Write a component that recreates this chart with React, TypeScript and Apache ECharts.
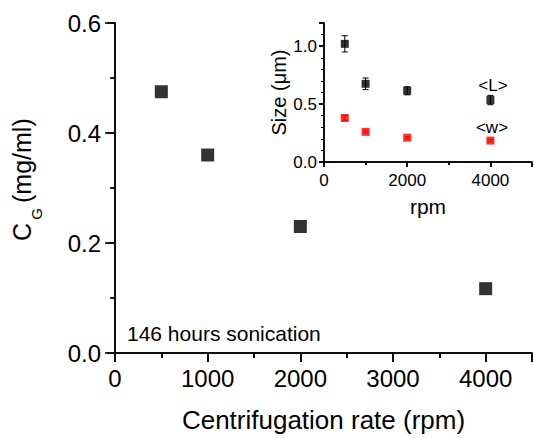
import React, { useEffect, useRef } from "react";
import * as echarts from "echarts";

const rpm = [500, 1000, 2000, 4000];
const concentration = [0.475, 0.36, 0.23, 0.117];
const lengthL = [1.02, 0.675, 0.615, 0.535];
const lengthErr = [0.07, 0.05, 0.035, 0.04];
const widthW = [0.38, 0.26, 0.21, 0.185];
const widthErr = [0.02, 0.01, 0.01, 0.01];

const FONT = "Liberation Sans, Arial, sans-serif";
const BLACK = "#000000";
const RED = "#ff0000";

const axisLineStyle = { color: BLACK, width: 1.5 };
const plain = (v: number) => String(v);

function errorBars(xIdx: number, yIdx: number, xs: number[], ys: number[], es: number[], color: string) {
  return {
    type: "custom",
    xAxisIndex: xIdx,
    yAxisIndex: yIdx,
    z: 3,
    data: xs.map((x, i) => [x, ys[i], es[i]]),
    renderItem: (params: any, api: any) => {
      const x = api.value(0);
      const y = api.value(1);
      const e = api.value(2);
      const top = api.coord([x, y + e]);
      const bot = api.coord([x, y - e]);
      const cap = 3;
      const style = { stroke: color, lineWidth: 1 };
      return {
        type: "group",
        children: [
          { type: "line", shape: { x1: top[0], y1: top[1], x2: bot[0], y2: bot[1] }, style },
          { type: "line", shape: { x1: top[0] - cap, y1: top[1], x2: top[0] + cap, y2: top[1] }, style },
          { type: "line", shape: { x1: bot[0] - cap, y1: bot[1], x2: bot[0] + cap, y2: bot[1] }, style },
        ],
      };
    },
  };
}

export default function App() {
  const ref = useRef<HTMLDivElement>(null);
  useEffect(() => {
    document.body.style.margin = "0";
    const chart = echarts.init(ref.current!, null, { renderer: "svg" });
    const option: any = {
      animation: false,
      backgroundColor: "#ffffff",
      textStyle: { fontFamily: FONT },
      grid: [
        { left: 115, top: 23, right: 2, bottom: 85, z: 0 },
        { left: 324, top: 23, right: 2, bottom: 276, show: true, backgroundColor: "#ffffff", borderWidth: 0, z: 1 },
      ],
      xAxis: [
        {
          gridIndex: 0, type: "value", min: 0, max: 4500, interval: 1000, position: "bottom",
          axisLine: { lineStyle: axisLineStyle },
          axisTick: { inside: false, length: 9, lineStyle: axisLineStyle },
          minorTick: { show: true, splitNumber: 2, length: 5, lineStyle: axisLineStyle },
          splitLine: { show: false },
          axisLabel: { fontSize: 24, color: BLACK, margin: 13, fontFamily: FONT, showMaxLabel: false, formatter: plain },
          name: "Centrifugation rate (rpm)", nameLocation: "middle", nameGap: 54,
          nameTextStyle: { fontSize: 26, color: BLACK, fontFamily: FONT },
        },
        {
          gridIndex: 0, type: "value", min: 0, max: 4500, interval: 1000, position: "top",
          axisLine: { lineStyle: axisLineStyle },
          axisTick: { inside: true, length: 9, lineStyle: axisLineStyle },
          minorTick: { show: true, splitNumber: 2, length: 5, lineStyle: axisLineStyle },
          splitLine: { show: false },
          axisLabel: { show: false },
        },
        {
          gridIndex: 1, type: "value", min: 0, max: 5000, interval: 2000, position: "bottom", z: 3,
          axisLine: { lineStyle: axisLineStyle },
          axisTick: { inside: false, length: 5, lineStyle: axisLineStyle },
          minorTick: { show: true, splitNumber: 2, length: 3, lineStyle: axisLineStyle },
          splitLine: { show: false },
          axisLabel: { fontSize: 17, color: BLACK, margin: 10, fontFamily: FONT, showMaxLabel: false, formatter: plain },
          name: "rpm", nameLocation: "middle", nameGap: 34,
          nameTextStyle: { fontSize: 21, color: BLACK, fontFamily: FONT },
        },
        {
          gridIndex: 1, type: "value", min: 0, max: 5000, interval: 2000, position: "top", z: 3,
          axisLine: { lineStyle: axisLineStyle },
          axisTick: { inside: true, length: 5, lineStyle: axisLineStyle },
          minorTick: { show: true, splitNumber: 2, length: 3, lineStyle: axisLineStyle },
          splitLine: { show: false },
          axisLabel: { show: false },
        },
      ],
      yAxis: [
        {
          gridIndex: 0, type: "value", min: 0, max: 0.6, interval: 0.2, position: "left",
          axisLine: { lineStyle: axisLineStyle },
          axisTick: { inside: false, length: 10, lineStyle: axisLineStyle },
          minorTick: { show: true, splitNumber: 2, length: 5, lineStyle: axisLineStyle },
          splitLine: { show: false },
          axisLabel: { fontSize: 24, color: BLACK, margin: 14, fontFamily: FONT, formatter: (v: number) => v.toFixed(1) },
        },
        {
          gridIndex: 0, type: "value", min: 0, max: 0.6, interval: 0.2, position: "right",
          axisLine: { lineStyle: axisLineStyle },
          axisTick: { inside: true, length: 8, lineStyle: axisLineStyle },
          minorTick: { show: true, splitNumber: 2, length: 4, lineStyle: axisLineStyle },
          splitLine: { show: false },
          axisLabel: { show: false },
        },
        {
          gridIndex: 1, type: "value", min: 0, max: 1.2, interval: 0.5, position: "left", z: 3,
          axisLine: { lineStyle: axisLineStyle },
          axisTick: { inside: false, length: 5, lineStyle: axisLineStyle },
          minorTick: { show: true, splitNumber: 5, length: 3, lineStyle: { color: BLACK, width: 1 } },
          splitLine: { show: false },
          axisLabel: { fontSize: 17, color: BLACK, margin: 7, fontFamily: FONT, showMaxLabel: false, formatter: (v: number) => v.toFixed(1) },
          name: "Size (\u03bcm)", nameLocation: "middle", nameRotate: 90, nameGap: 29,
          nameTextStyle: { fontSize: 20, color: BLACK, fontFamily: FONT },
        },
        {
          gridIndex: 1, type: "value", min: 0, max: 1.2, interval: 0.5, position: "right", z: 3,
          axisLine: { lineStyle: axisLineStyle },
          axisTick: { inside: true, length: 5, lineStyle: axisLineStyle },
          minorTick: { show: false },
          splitLine: { show: false },
          axisLabel: { show: false },
        },
      ],
      series: [
        {
          type: "scatter", xAxisIndex: 0, yAxisIndex: 0, symbol: "rect", symbolSize: 13,
          itemStyle: { color: BLACK }, data: rpm.map((x, i) => [x, concentration[i]]),
        },
        errorBars(2, 2, rpm, lengthL, lengthErr, BLACK),
        errorBars(2, 2, rpm, widthW, widthErr, RED),
        {
          type: "scatter", xAxisIndex: 2, yAxisIndex: 2, symbol: "rect", symbolSize: 8, z: 4,
          itemStyle: { color: BLACK }, data: rpm.map((x, i) => [x, lengthL[i]]),
        },
        {
          type: "scatter", xAxisIndex: 2, yAxisIndex: 2, symbol: "rect", symbolSize: 8, z: 4,
          itemStyle: { color: RED }, data: rpm.map((x, i) => [x, widthW[i]]),
        },
      ],
      graphic: [
        { type: "text", x: 22.3, y: 232, rotation: Math.PI / 2, style: { text: "C", fontSize: 25, fontFamily: FONT, fill: BLACK, align: "center", verticalAlign: "middle" } },
        { type: "text", x: 36.7, y: 214, rotation: Math.PI / 2, style: { text: "G", fontSize: 15, fontFamily: FONT, fill: BLACK, align: "center", verticalAlign: "middle" } },
        { type: "text", x: 22.3, y: 203, rotation: Math.PI / 2, style: { text: "(mg/ml)", fontSize: 25, fontFamily: FONT, fill: BLACK, align: "left", verticalAlign: "middle" } },
        { type: "text", x: 127, y: 333, style: { text: "146 hours sonication", fontSize: 21, fontFamily: FONT, fill: BLACK, align: "left", verticalAlign: "middle" } },
        { type: "text", x: 493, y: 85, z: 10, style: { text: "<L>", fontSize: 17, fontFamily: FONT, fill: BLACK, align: "center", verticalAlign: "middle" } },
        { type: "text", x: 492, y: 127, z: 10, style: { text: "<w>", fontSize: 17, fontFamily: FONT, fill: BLACK, align: "center", verticalAlign: "middle" } },
      ],
    };
    chart.setOption(option);
    return () => chart.dispose();
  }, []);
  return <div ref={ref} style={{ width: 534, height: 438 }} />;
}
